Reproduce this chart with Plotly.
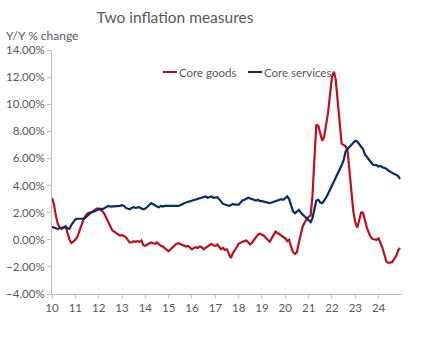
import pandas as pd
import plotly.graph_objects as go

# Monthly year-over-year changes, Jan 2010 - Dec 2024 (percent)
core_goods = [
    3.1, 2.6, 1.8, 1.2, 0.9, 0.8, 0.9, 1.0, 0.5, 0.0, -0.25, -0.15,          # 2010
    0.0, 0.2, 0.6, 1.0, 1.4, 1.7, 1.9, 2.0, 2.0, 2.1, 2.2, 2.3,              # 2011
    2.3, 2.2, 2.1, 1.9, 1.6, 1.2, 1.0, 0.7, 0.6, 0.5, 0.4, 0.3,              # 2012
    0.35, 0.3, 0.2, 0.0, -0.2, -0.2, -0.1, -0.15, -0.1, -0.15, -0.05, -0.4,  # 2013
    -0.45, -0.35, -0.3, -0.2, -0.25, -0.3, -0.2, -0.35, -0.45, -0.5, -0.6, -0.75,  # 2014
    -0.85, -0.7, -0.55, -0.4, -0.3, -0.25, -0.3, -0.4, -0.45, -0.5, -0.45, -0.6,   # 2015
    -0.7, -0.6, -0.55, -0.6, -0.5, -0.55, -0.7, -0.6, -0.5, -0.35, -0.3, -0.4,     # 2016
    -0.45, -0.35, -0.5, -0.7, -0.6, -0.75, -0.7, -1.0, -1.35, -1.0, -0.8, -0.55,   # 2017
    -0.3, -0.2, -0.15, -0.1, -0.05, -0.2, -0.35, -0.2, 0.0, 0.2, 0.4, 0.45,  # 2018
    0.4, 0.3, 0.15, 0.0, -0.15, 0.1, 0.4, 0.6, 0.5, 0.4, 0.3, 0.2,          # 2019
    0.1, -0.1, 0.0, -0.5, -0.9, -1.05, -0.9, -0.2, 0.5, 1.0, 1.3, 1.5,      # 2020
    1.7, 1.8, 3.2, 6.0, 8.5, 8.4, 7.9, 7.3, 7.6, 8.4, 9.4, 10.7,            # 2021
    12.0, 12.4, 11.8, 10.2, 8.5, 7.1, 7.0, 6.9, 6.6, 5.1, 3.7, 2.1,         # 2022
    1.3, 0.9, 1.4, 2.0, 2.0, 1.4, 0.9, 0.5, 0.2, 0.05, 0.05, 0.0,           # 2023
    0.1, -0.2, -0.6, -1.1, -1.6, -1.7, -1.7, -1.65, -1.4, -1.2, -0.8, -0.6,  # 2024
]

core_services = [
    0.95, 0.9, 0.8, 0.8, 0.85, 0.9, 0.9, 0.95, 0.85, 0.8, 1.1, 1.3,         # 2010
    1.5, 1.55, 1.55, 1.5, 1.55, 1.6, 1.75, 1.9, 2.0, 2.05, 2.1, 2.2,        # 2011
    2.25, 2.3, 2.25, 2.35, 2.45, 2.5, 2.45, 2.45, 2.5, 2.5, 2.45, 2.5,      # 2012
    2.55, 2.5, 2.35, 2.3, 2.25, 2.35, 2.4, 2.35, 2.35, 2.4, 2.3, 2.25,      # 2013
    2.3, 2.4, 2.55, 2.7, 2.65, 2.55, 2.45, 2.4, 2.5, 2.45, 2.5, 2.5,        # 2014
    2.5, 2.45, 2.5, 2.5, 2.45, 2.5, 2.55, 2.65, 2.7, 2.75, 2.8, 2.85,       # 2015
    2.9, 2.95, 3.0, 3.05, 3.05, 3.1, 3.15, 3.2, 3.1, 3.15, 3.2, 3.1,        # 2016
    3.1, 3.15, 3.0, 2.8, 2.65, 2.6, 2.55, 2.5, 2.55, 2.65, 2.6, 2.6,        # 2017
    2.6, 2.75, 2.9, 2.95, 3.0, 3.1, 3.05, 3.0, 2.95, 2.9, 2.95, 2.85,       # 2018
    2.85, 2.8, 2.75, 2.75, 2.7, 2.75, 2.8, 2.85, 2.9, 2.95, 3.0, 2.95,      # 2019
    3.05, 3.2, 3.0, 2.6, 2.1, 1.95, 2.1, 2.2, 2.0, 1.85, 1.75, 1.6,         # 2020
    1.45, 1.3, 1.6, 2.2, 2.9, 2.95, 2.75, 2.7, 2.9, 3.1, 3.4, 3.7,          # 2021
    3.9, 4.2, 4.6, 4.9, 5.2, 5.5, 5.85, 6.5, 6.7, 6.85, 7.0, 7.15,          # 2022
    7.3, 7.25, 7.1, 6.9, 6.7, 6.3, 6.1, 5.9, 5.7, 5.55, 5.5, 5.5,           # 2023
    5.4, 5.45, 5.35, 5.3, 5.25, 5.1, 5.0, 4.95, 4.85, 4.8, 4.7, 4.5,        # 2024
]

dates = pd.date_range("2010-01-01", periods=len(core_goods), freq="MS")

# x-axis tick positions (start of each year) and their two-digit labels
tick_years = list(range(2010, 2025))
tick_labels = [f"{y % 100:02d}" for y in tick_years]

series_names = ["Core goods", "Core services"]
series_colors = ["#C00F1C", "#0A2B6A"]

TEXT = "#595959"
AXIS = "#BFBFBF"
FONT = "Lato, 'Open Sans', sans-serif"

fig = go.Figure()
for name, vals, col in zip(series_names, [core_goods, core_services], series_colors):
    fig.add_trace(go.Scatter(
        x=dates, y=vals, mode="lines", name=name,
        line=dict(color=col, width=2.2),
    ))

# plot area in pixels: x 52..402, y 50..294
W, H = 422, 337
L, R, T, B = 52, 20, 50, 43
pw, ph = W - L - R, H - T - B

def px_x(p):
    return (p - L) / pw

def px_y(p):
    return (H - B - p) / ph

# compact legend drawn above the curves
legend_items = [(163, 177, 178), (248, 262, 263)]
for (x0, x1, xt), name, col in zip(legend_items, series_names, series_colors):
    fig.add_shape(type="line", xref="paper", yref="paper",
                  x0=px_x(x0), x1=px_x(x1), y0=px_y(72), y1=px_y(72),
                  line=dict(color=col, width=2))
    fig.add_annotation(xref="paper", yref="paper", x=px_x(xt), y=px_y(72),
                       text=name, showarrow=False, xanchor="left", yanchor="middle",
                       xshift=-1, font=dict(family=FONT, size=11.5, color=TEXT))

fig.add_annotation(xref="paper", yref="paper", x=px_x(4), y=px_y(35),
                   text="Y/Y % change", showarrow=False, xanchor="left", yanchor="middle",
                   font=dict(family=FONT, size=12, color=TEXT))

fig.update_layout(
    width=W, height=H,
    margin=dict(l=L, r=R, t=T, b=B, autoexpand=False),
    paper_bgcolor="white", plot_bgcolor="white",
    showlegend=False,
    title=dict(text="Two inflation measures", x=175 / W, xanchor="center",
               y=1 - 18 / H, yanchor="middle",
               font=dict(family=FONT, size=15.5, color=TEXT)),
    font=dict(family=FONT, size=11, color=TEXT),
)

fig.update_xaxes(
    type="date", range=["2010-01-01", "2025-01-01"], automargin=False,
    tickmode="array",
    tickvals=[f"{y}-01-01" for y in tick_years], ticktext=tick_labels,
    showgrid=False, zeroline=False,
    showline=True, linecolor=AXIS, linewidth=1,
    ticks="outside", ticklen=3, tickcolor=AXIS,
    tickfont=dict(family=FONT, size=11.5, color=TEXT),
)
fig.update_yaxes(
    range=[-4, 14], dtick=2, tickformat=".2f", ticksuffix="%", automargin=False,
    showgrid=False, zeroline=False,
    showline=True, linecolor=AXIS, linewidth=1,
    ticks="outside", ticklen=4, tickcolor=AXIS,
    tickfont=dict(family=FONT, size=11.5, color=TEXT),
)

fig.write_html("out.html")
